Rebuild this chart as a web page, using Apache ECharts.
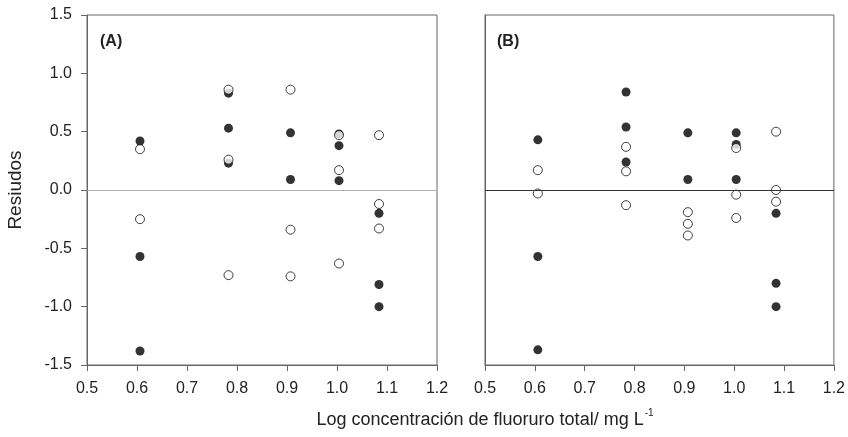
<!DOCTYPE html>
<html>
<head>
<meta charset="utf-8">
<script src="https://cdn.jsdelivr.net/npm/echarts@6/dist/echarts.min.js"></script>
<style>
  html, body { margin: 0; padding: 0; background: #fff; }
  #chart { width: 848px; height: 437px; }
</style>
</head>
<body>
<div id="chart"></div>
<script>
var myChart = echarts.init(document.getElementById('chart'));

// (A) residuos: puntos llenos y vacios
let filledA = [
    [0.606, 0.42], [0.606, -0.57], [0.606, -1.38],
    [0.783, 0.83], [0.783, 0.53], [0.783, 0.23],
    [0.907, 0.49], [0.907, 0.09],
    [1.004, 0.48], [1.004, 0.38], [1.004, 0.08],
    [1.084, -0.20], [1.084, -0.81], [1.084, -1.00]
]
let openA = [
    [0.606, 0.35], [0.606, -0.25],
    [0.783, 0.86], [0.783, 0.26], [0.783, -0.73],
    [0.907, 0.86], [0.907, -0.34], [0.907, -0.74],
    [1.004, 0.47], [1.004, 0.17], [1.004, -0.63],
    [1.084, 0.47], [1.084, -0.12], [1.084, -0.33]
]
// (B)
let filledB = [
    [0.606, 0.43], [0.606, -0.57], [0.606, -1.37],
    [0.783, 0.84], [0.783, 0.54], [0.783, 0.24],
    [0.907, 0.49], [0.907, 0.09],
    [1.004, 0.49], [1.004, 0.39], [1.004, 0.09],
    [1.084, -0.20], [1.084, -0.80], [1.084, -1.00]
]
let openB = [
    [0.606, 0.17], [0.606, -0.03],
    [0.783, 0.37], [0.783, 0.16], [0.783, -0.13],
    [0.907, -0.19], [0.907, -0.29], [0.907, -0.39],
    [1.004, 0.36], [1.004, -0.04], [1.004, -0.24],
    [1.084, 0.50], [1.084, 0.00], [1.084, -0.10]
]

var axisColor = '#666666'
var textColor = '#222222'
var font = 'Liberation Sans, Arial, sans-serif'

function xAxisOf(idx) {
    return {
        type: 'value',
        gridIndex: idx,
        min: 0.5,
        max: 1.2,
        interval: 0.1,
        splitLine: { show: false },
        axisLine: { onZero: false, lineStyle: { color: axisColor, width: 1 } },
        axisTick: { length: 6, lineStyle: { color: axisColor } },
        axisLabel: {
            color: textColor, fontSize: 16, fontFamily: font, margin: 16,
            formatter: function (v) { return v.toFixed(1) }
        }
    }
}

function yAxisOf(idx, labels) {
    return {
        type: 'value',
        gridIndex: idx,
        min: -1.5,
        max: 1.5,
        interval: 0.5,
        splitLine: { show: false },
        axisLine: { lineStyle: { color: axisColor, width: 1 } },
        axisTick: { show: labels, length: 6, lineStyle: { color: axisColor } },
        axisLabel: {
            show: labels, color: textColor, fontSize: 16, fontFamily: font, margin: 15,
            formatter: function (v) { return v.toFixed(1) }
        },
        name: labels ? 'Resiudos' : '',
        nameLocation: 'middle',
        nameRotate: 90,
        nameGap: 62,
        nameTextStyle: { color: textColor, fontSize: 19, fontFamily: font }
    }
}

function zeroLine(color) {
    return {
        silent: true,
        symbol: 'none',
        label: { show: false },
        lineStyle: { color: color, type: 'solid', width: 1 },
        data: [{ yAxis: 0 }]
    }
}

function filledSeries(data, idx, mark) {
    return {
        type: 'scatter', xAxisIndex: idx, yAxisIndex: idx, data: data,
        symbol: 'circle', symbolSize: 9, z: 3,
        itemStyle: { color: '#000000' },
        markLine: mark
    }
}

function openSeries(data, idx) {
    return {
        type: 'scatter', xAxisIndex: idx, yAxisIndex: idx, data: data,
        symbol: 'circle', symbolSize: 9, z: 4,
        itemStyle: { color: '#ffffff', borderColor: '#111111', borderWidth: 1 }
    }
}

option = {
    backgroundColor: '#ffffff',
    animation: false,
    grid: [
        { left: 87, top: 15, width: 350, height: 350, show: true, borderColor: axisColor, borderWidth: 1 },
        { left: 485, top: 15, width: 350, height: 350, show: true, borderColor: axisColor, borderWidth: 1 }
    ],
    xAxis: [xAxisOf(0), xAxisOf(1)],
    yAxis: [yAxisOf(0, true), yAxisOf(1, false)],
    series: [
        filledSeries(filledA, 0, zeroLine('#b0b0b0')),
        openSeries(openA, 0),
        filledSeries(filledB, 1, zeroLine('#333333')),
        openSeries(openB, 1)
    ],
    graphic: [
        {
            type: 'text', left: 100, top: 34,
            style: { text: '(A)', fill: textColor, font: 'bold 16px ' + font }
        },
        {
            type: 'text', left: 497, top: 34,
            style: { text: '(B)', fill: textColor, font: 'bold 16px ' + font }
        },
        {
            type: 'text', x: 485, y: 408,
            style: {
                text: '{a|Log concentración de fluoruro total/ mg L}{s|-1}',
                align: 'center',
                rich: {
                    a: { fill: textColor, fontSize: 18, fontFamily: font, lineHeight: 24 },
                    s: { fill: textColor, fontSize: 10, fontFamily: font, lineHeight: 24, padding: [0, 0, 13, 1] }
                }
            }
        }
    ]
};

myChart.setOption(option);
</script>
</body>
</html>
